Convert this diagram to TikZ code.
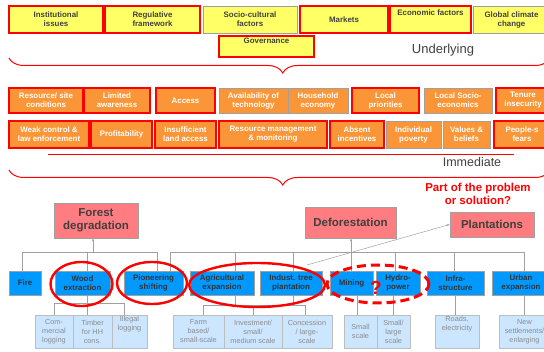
\documentclass[tikz,border=0pt]{standalone}
\usepackage{fontspec}
\setmainfont{Liberation Sans}
\usetikzlibrary{decorations.pathreplacing,arrows.meta}
\definecolor{causeyellow}{RGB}{255,255,102}
\definecolor{causeorange}{RGB}{250,150,55}
\definecolor{effectpink}{RGB}{255,124,128}
\definecolor{driverblue}{RGB}{0,153,255}
\definecolor{subblue}{RGB}{204,230,255}
\definecolor{linegray}{RGB}{160,160,160}
\definecolor{textgray}{RGB}{64,64,64}
\newcommand{\redrim}{1.4pt}

\begin{document}
\begin{tikzpicture}[x=1pt,y=-1pt,
  cause/.style={draw=red, line width=\redrim, inner sep=0pt, align=center,
    font=\fontsize{7.9}{9}\selectfont\bfseries},
  grayrim/.style={draw=linegray, line width=.8pt},
  under/.style={cause, fill=causeyellow, text=textgray, minimum height=27pt},
  immed/.style={cause, fill=causeorange, text=white},
  effect/.style={draw=linegray, line width=.8pt, fill=effectpink, text=textgray,
    inner sep=0pt, align=center, font=\fontsize{11.5}{13}\selectfont\bfseries},
  driver/.style={draw=linegray, line width=.6pt, fill=driverblue, text=black!80,
    inner sep=0pt, align=center, minimum height=24pt,
    font=\fontsize{7.9}{9}\selectfont\bfseries},
  sub/.style={draw=linegray!70, line width=.6pt, fill=subblue, text=black!45,
    inner sep=0pt, align=center, minimum height=33pt,
    font=\fontsize{7.3}{9}\selectfont},
  link/.style={draw=linegray, line width=.7pt},
  ring/.style={draw=red, line width=2.4pt},
  brc/.style={draw=red, line width=1pt, decorate,
    decoration={brace, mirror, amplitude=15pt, aspect=0.506}}]
\useasboundingbox (0,0) rectangle (544,352);

% underlying causes
\node (inst) at (56,19.5) [under, minimum width=94pt] {Institutional\\issues};
\node (regul) at (152.5,19.5) [under, minimum width=95pt] {Regulative\\framework};
\node (socio) at (250,19.5) [under, grayrim, minimum width=94pt] {Socio-cultural\\factors};
\node (market) at (344,19.5) [under, minimum width=88pt] {Markets};
\node (econ) at (430.5,19.5) [under, minimum width=81pt] {Economic factors\\[5pt]};
\node (climate) at (511.5,19.5) [under, grayrim, minimum width=77pt] {Global climate\\change};
\node (govern) at (266.5,46.5) [under, minimum width=95pt, minimum height=21pt] {Governance\\[2pt]};
\node (underlying) at (443,50) [text=textgray, font=\fontsize{13}{15}\selectfont] {Underlying};
\draw[brc] (9,58) -- (550,58);

% immediate causes
\node (resource) at (46,100.5) [immed, minimum width=74pt, minimum height=25pt] {Resource/ site\\conditions};
\node (aware) at (117,100.5) [immed, minimum width=66pt, minimum height=25pt] {Limited\\awareness};
\node (access) at (185.5,100.5) [immed, minimum width=59pt, minimum height=25pt] {Access};
\node (techno) at (253.5,100.5) [immed, grayrim, minimum width=69pt, minimum height=25pt] {Availability of\\technology};
\node (house) at (318,100.5) [immed, grayrim, minimum width=60pt, minimum height=25pt] {Household\\economy};
\node (locprio) at (385.5,100.5) [immed, minimum width=67pt, minimum height=25pt] {Local\\priorities};
\node (locsoc) at (458,100.5) [immed, grayrim, minimum width=68pt, minimum height=25pt] {Local Socio-\\economics};
\node (tenure) at (523,100.5) [immed, minimum width=54pt, minimum height=25pt] {Tenure\\insecurity};

\node (weak) at (49,134.5) [immed, minimum width=80pt, minimum height=27pt] {Weak control \&\\law enforcement};
\node (profit) at (121.5,134.5) [immed, minimum width=61pt, minimum height=27pt] {Profitability};
\node (insuff) at (185.5,134.5) [immed, minimum width=61pt, minimum height=27pt] {Insufficient\\land access};
\node (resman) at (273,134.5) [immed, minimum width=108pt, minimum height=27pt] {Resource management\\\& monitoring};
\node (absent) at (357,134.5) [immed, minimum width=54pt, minimum height=27pt] {Absent\\incentives};
\node (poverty) at (413.5,134.5) [immed, grayrim, minimum width=55pt, minimum height=27pt] {Individual\\poverty};
\node (values) at (466.5,134.5) [immed, grayrim, minimum width=47pt, minimum height=27pt] {Values \&\\beliefs};
\node (fears) at (522,134.5) [immed, minimum width=56pt, minimum height=27pt] {People-s\\fears};

\coordinate (immleft) at (48,154);
\coordinate (immright) at (514,154);
\draw[red, line width=.8pt] (immleft) -- (immright);
\node (immediate) at (472,162) [text=textgray, font=\fontsize{12.5}{14}\selectfont] {Immediate};
\draw[brc] (9,170) -- (550,170);

% effects
\node (question) at (478,193.5) [text=red, align=center, font=\fontsize{11.5}{13}\selectfont\bfseries] {Part of the problem\\or solution?};
\node (degrad) at (96,220.5) [effect, minimum width=84pt, minimum height=35pt] {Forest\\degradation};
\node (defor) at (350.5,222.5) [effect, minimum width=91pt, minimum height=31pt] {Deforestation};
\node (plant) at (492,224.5) [effect, minimum width=84pt, minimum height=25pt] {Plantations};

% direct drivers
\node (fire) at (25,283) [driver, minimum width=32pt] {Fire};
\node (wood) at (82.5,283) [driver, minimum width=55pt] {Wood\\extraction};
\node (pioneer) at (153.5,283) [driver, minimum width=59pt] {Pioneering\\shifting};
\node (agri) at (222,283) [driver, minimum width=64pt] {Agricultural\\expansion};
\node (indust) at (291,283) [driver, minimum width=62pt] {Indust. tree\\plantation};
\node (mining) at (351.5,283) [driver, minimum width=43pt] {Mining};
\node (hydro) at (398,283) [driver, minimum width=44pt] {Hydro-\\power};
\node (infra) at (455.5,283) [driver, minimum width=57pt] {Infra-\\structure};
\node (urban) at (521,283) [driver, minimum width=58pt] {Urban\\expansion};

% sub drivers
\node (commerce) at (54,331.5) [sub, minimum width=38pt] {Com-\\mercial\\logging};
\node (timber) at (92.5,331.5) [sub, minimum width=39pt] {Timber\\for HH\\cons.};
\node (illegal) at (129.5,331.5) [sub, minimum width=35pt] {Illegal\\logging\\[8pt]};
\node (farm) at (198.5,331.5) [sub, minimum width=51pt] {Farm\\based/\\small-scale};
\node (invest) at (253,331.5) [sub, minimum width=58pt] {Investment/\\small/\\medium scale};
\node (concess) at (307,331.5) [sub, minimum width=50pt] {Concession\\/ large-\\scale};
\node (smallsc) at (360.5,331.5) [sub, minimum width=33pt] {Small\\scale};
\node (largesc) at (393.5,331.5) [sub, minimum width=33pt] {Small/\\large\\scale};
\node (roads) at (457,331.5) [sub, minimum width=44pt] {Roads,\\electricity\\[8pt]};
\node (settle) at (524.5,331.5) [sub, minimum width=51pt] {New\\settlements/\\enlarging};

% links up to the effects
\draw[link] (fire.north -| 22,0) |- (157,252) -- (pioneer.north -| 157,0);
\draw[link] (wood.north -| 87,0) -- (87,252);
\draw[link, -{Stealth[length=3pt]}] (93,252) -- (degrad.south -| 93,0);
\draw[link] (pioneer.north -| 170,0) |- (524,252) -- (urban.north -| 524,0);
\foreach \xpos/\drv in {235/agri, 293/indust, 351/mining, 395/hydro, 454/infra}
  \draw[link] (\drv.north -| \xpos,0) -- (\xpos,252);
\draw[link, -{Stealth[length=3pt]}] (351,252) -- (defor.south -| 351,0);
\coordinate (plantfoot) at (307,265);
\draw[link, line width=.5pt, -{Stealth[length=3pt]}] (plantfoot) -- (plant.west);

% links down to the sub drivers
\draw[link] (wood.south -| 87,0) -- (87,303);
\draw[link] (commerce.north -| 54,0) |- (124,303) -- (illegal.north -| 124,0);
\draw[link] (87,303) -- (timber.north -| 87,0);
\draw[link] (agri.south -| 235,0) -- (235,305);
\draw[link] (indust.south -| 293,0) -- (293,305);
\draw[link] (farm.north -| 203,0) |- (305,305) -- (concess.north -| 305,0);
\draw[link] (253,305) -- (invest.north -| 253,0);
\draw[link] (mining.south -| 357,0) -- (smallsc.north -| 357,0);
\draw[link] (hydro.south -| 393,0) -- (largesc.north -| 393,0);
\draw[link] (infra.south) -- (roads.north -| infra.south);
\draw[link] (urban.south -| 524,0) -- (settle.north -| 524,0);

% highlights
\draw[ring] (wood.center) ++(-1,1) ellipse [x radius=31pt, y radius=22pt];
\draw[ring] (pioneer.center) ++(-1.5,0) ellipse [x radius=35pt, y radius=21pt];
\draw[ring] (257,285) ellipse [x radius=68pt, y radius=22pt];
\draw[ring, line width=3pt, dash pattern=on 9pt off 5pt] (378,284) ellipse [x radius=51pt, y radius=19pt];
\node (maybe) at (376,288) [text=red, font=\fontsize{19}{19}\selectfont\bfseries] {?};
\end{tikzpicture}
\end{document}
